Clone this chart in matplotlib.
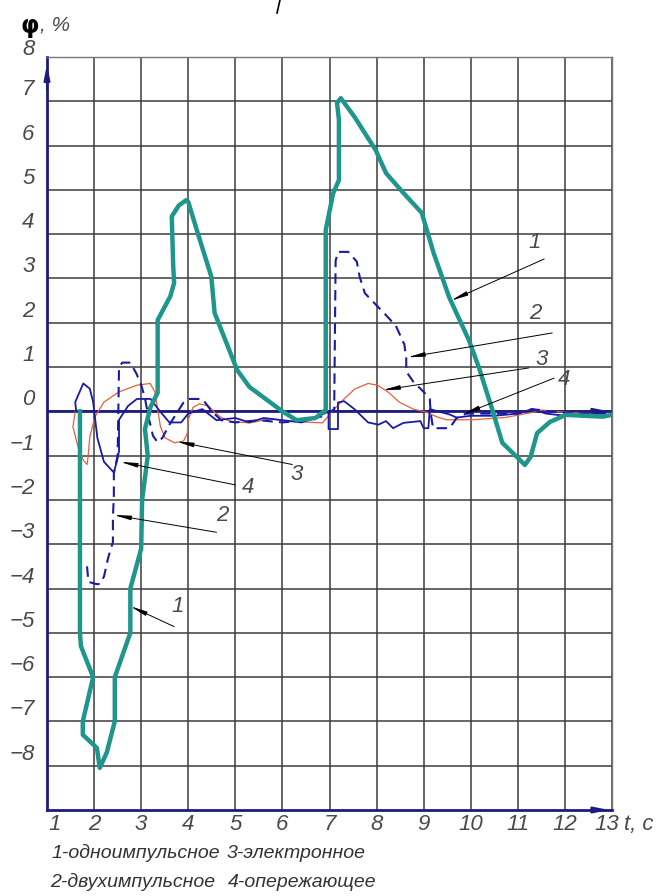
import matplotlib.pyplot as plt
from matplotlib.lines import Line2D
from matplotlib import transforms

plt.rcParams['font.family'] = ['Liberation Sans', 'DejaVu Sans']

# 1 - одноимпульсное
t1 = [1.70, 1.70, 1.72, 1.98, 1.76, 1.76, 2.06, 2.12, 2.27, 2.44,
      2.44, 2.77, 2.77, 3.00, 3.02, 3.14, 3.08, 3.20, 3.35, 3.35,
      3.62, 3.70, 3.68, 3.65, 3.80, 3.96, 4.00, 4.20, 4.49, 4.56,
      5.04, 5.30, 6.00, 6.30, 6.70, 6.92, 6.92, 7.08, 7.20, 7.20,
      7.16, 7.24, 7.53, 7.98, 8.20, 8.57, 8.96, 9.21, 9.54, 9.96,
      10.17, 10.46, 10.67, 10.98, 11.15, 11.27, 11.41, 11.68, 12.02, 12.80,
      13.00]
phi1 = [0.0, -5.0, -5.3, -6.0, -7.0, -7.3, -7.6, -8.05, -7.7, -7.0,
        -6.0, -5.0, -4.0, -3.1, -2.0, -1.0, -0.4, 0.1, 0.42, 2.06,
        2.6, 2.9, 3.3, 4.4, 4.65, 4.77, 4.73, 4.03, 3.04, 2.22,
        0.93, 0.55, 0.0, -0.2, -0.15, 0.03, 4.1, 4.93, 5.22, 6.58,
        6.96, 7.07, 6.65, 5.9, 5.38, 4.93, 4.48, 3.58, 2.58, 1.61,
        1.0, 0.03, -0.71, -1.03, -1.21, -1.03, -0.49, -0.24, -0.08, -0.12,
        -0.08]

# 2 - двухимпульсное
t2 = [1.85, 1.88, 2.05, 2.12, 2.21, 2.30, 2.40, 2.40, 2.42, 2.42,
      2.50, 2.53, 2.60, 2.77, 2.90, 3.00, 3.08, 3.15, 3.25, 3.35,
      3.45, 3.60, 3.75, 3.90, 4.00, 4.30, 4.50, 4.70, 5.00, 5.50,
      6.00, 6.50, 6.90, 7.10, 7.13, 7.18, 7.40, 7.58, 7.64, 7.75,
      7.90, 8.15, 8.41, 8.59, 8.63, 8.63, 8.78, 9.00, 9.13, 9.15,
      9.20, 9.55, 9.70, 9.90, 10.50, 11.00, 11.30, 11.70, 12.20, 13.00]
phi2 = [-3.5, -3.85, -3.9, -3.9, -3.73, -3.3, -2.95, -2.4, -1.9, -1.4,
        -1.0, 1.0, 1.1, 1.1, 0.85, 0.6, 0.3, -0.1, -0.55, -0.7,
        -0.6, -0.3, -0.05, 0.2, 0.28, 0.28, 0.0, -0.2, -0.25, -0.2,
        -0.25, -0.2, -0.1, 0.05, 3.4, 3.6, 3.6, 3.38, 3.04, 2.67,
        2.5, 2.23, 1.93, 1.51, 1.19, 0.9, 0.67, 0.44, 0.28, -0.05,
        -0.38, -0.38, -0.15, -0.05, -0.05, -0.05, 0.05, 0.0, -0.05, -0.05]

# 3 - электронное
t3 = [1.60, 1.55, 1.66, 1.77, 1.85, 1.87, 1.91, 2.02, 2.21, 2.53,
      2.91, 3.19, 3.29, 3.35, 3.41, 3.51, 3.71, 3.90, 3.98, 4.00,
      4.10, 4.24, 4.43, 4.56, 4.70, 4.90, 5.30, 5.75, 6.27, 6.85,
      7.10, 7.31, 7.53, 7.82, 8.02, 8.24, 8.48, 8.78, 9.06, 9.27,
      9.48, 10.04, 10.73, 11.33, 11.52, 11.74, 12.02, 12.60, 12.90, 13.00]
phi3 = [0.0, -0.35, -0.8, -1.1, -1.2, -1.05, -0.57, -0.12, 0.21, 0.44,
        0.59, 0.63, 0.44, 0.05, -0.35, -0.6, -0.71, -0.67, -0.5, -0.19,
        0.09, 0.17, 0.12, -0.02, -0.14, -0.23, -0.26, -0.17, -0.23, -0.26,
        0.05, 0.28, 0.5, 0.63, 0.59, 0.44, 0.21, 0.05, -0.02, -0.12,
        -0.19, -0.19, -0.14, -0.02, 0.03, 0.0, -0.02, -0.07, -0.12, -0.05]

# 4 - опережающее
t4 = [1.62, 1.60, 1.77, 1.91, 1.98, 2.07, 2.21, 2.42, 2.49, 2.53,
      2.53, 2.72, 2.91, 3.20, 3.40, 3.60, 3.85, 4.00, 4.30, 4.60,
      5.00, 5.30, 5.60, 6.00, 6.40, 6.70, 6.98, 6.98, 7.18, 7.18,
      7.31, 7.53, 7.82, 8.04, 8.20, 8.35, 8.57, 8.93, 9.00, 9.10,
      9.13, 9.55, 9.70, 10.00, 10.50, 11.00, 11.30, 11.60, 12.00, 13.00]
phi4 = [0.0, 0.21, 0.63, 0.51, 0.21, -0.6, -1.14, -1.38, -1.1, -0.9,
        -0.19, 0.12, 0.28, 0.28, 0.0, -0.25, -0.25, -0.05, 0.05, -0.2,
        -0.15, -0.25, -0.15, -0.2, -0.25, -0.15, 0.0, -0.4, -0.4, 0.2,
        0.23, 0.05, -0.25, -0.3, -0.22, -0.38, -0.26, -0.22, -0.38, -0.38,
        0.05, -0.07, -0.14, -0.1, -0.1, -0.05, 0.05, -0.05, -0.1, -0.1]

t_ticks = list(range(1, 14))
phi_ticks = list(range(-8, 9))

# callouts: label, text pos, line start, arrow tip
callouts = [
    ('1', (11.35, 3.82), (11.56, 3.44), (9.58, 2.50)),
    ('2', (11.38, 2.20), (11.73, 1.77), (8.66, 1.22)),
    ('3', (11.50, 1.18), (11.23, 0.98), (8.13, 0.48)),
    ('4', (11.98, 0.73), (11.77, 0.75), (9.83, -0.07)),
    ('3', (6.31, -1.43), (6.21, -1.20), (3.75, -0.68)),
    ('4', (5.27, -1.73), (5.00, -1.66), (2.56, -1.14)),
    ('2', (4.73, -2.34), (4.60, -2.73), (2.42, -2.34)),
    ('1', (3.78, -4.40), (3.70, -4.86), (2.77, -4.40)),
]

teal = '#1e968c'
navy = '#1a1aa6'
orange = '#e4603a'
axis_col = '#1c1c80'
txt_col = '#4a4a4a'

fig = plt.figure(figsize=(6.59, 8.96), dpi=100)
ax = fig.add_axes([47 / 659, 86 / 896, 565 / 659, 753 / 896])
ax.set_xlim(1, 13)
ax.set_ylim(-9, 8)

ax.set_xticks(t_ticks)
ax.set_yticks(phi_ticks)
ax.grid(True, color='#3c3c3c', lw=1.1)
ax.tick_params(length=0, labelbottom=False, labelleft=False)
for s in ['top', 'right']:
    ax.spines[s].set_color('#777777')
    ax.spines[s].set_linewidth(1.0)
for s in ['left', 'bottom']:
    ax.spines[s].set_color(axis_col)
    ax.spines[s].set_linewidth(2.0)
ax.axhline(0, color=axis_col, lw=2.0, zorder=2)

# axis arrows
head = dict(arrowstyle='-|>,head_length=0.9,head_width=0.18', color=axis_col, lw=1.5)
ax.annotate('', xy=(13, 0), xytext=(12.5, 0), arrowprops=head, annotation_clip=False)
ax.annotate('', xy=(13, -9), xytext=(12.5, -9), arrowprops=head, annotation_clip=False)
ax.annotate('', xy=(1, 7.9), xytext=(1, 7.2), arrowprops=head, annotation_clip=False)

ax.plot(t3, phi3, color=orange, lw=0.9, zorder=3)
ax.plot(t4, phi4, color=navy, lw=1.3, zorder=4)
ax.plot(t2, phi2, color=navy, lw=1.5, ls=(0, (5, 3)), zorder=4)
ax.plot(t1, phi1, color=teal, lw=3.2, solid_joinstyle='round', zorder=5)

for lab, tp, ls, tip in callouts:
    ax.annotate('', xy=tip, xytext=ls,
                arrowprops=dict(arrowstyle='-|>,head_length=1.0,head_width=0.13',
                                color='black', lw=0.7, shrinkA=0, shrinkB=0),
                zorder=6)
    ax.text(tp[0], tp[1], lab, fontsize=16, style='italic', color=txt_col,
            ha='center', va='center', zorder=6)

# tick labels
ytr = transforms.blended_transform_factory(ax.transAxes, ax.transData)
for v in phi_ticks:
    off = 0.16 if v == 8 else 0.26
    ax.text(-0.022, v + off, str(v).replace('-', '\u2212'), transform=ytr,
            ha='right', va='center', fontsize=16, style='italic', color=txt_col)
for v in t_ticks:
    x = v
    if v == 1:
        x = 1.17
    if v == 13:
        x = 12.9
    ax.text(x, -9.33, str(v), ha='center', va='center', fontsize=16,
            style='italic', color=txt_col)
ax.text(13.25, -9.33, 't, c', ha='left', va='center', fontsize=16,
        style='italic', color=txt_col)

fig.text(21 / 659, 1 - 26 / 896, '\u03c6', fontsize=17, fontweight='bold',
         color='black', va='center', family=['DejaVu Sans'])
fig.text(40 / 659, 1 - 25 / 896, ', %', fontsize=15, style='italic',
         color=txt_col, va='center')
fig.add_artist(Line2D([280 / 659, 277 / 659], [1.0, 1 - 13 / 896], color='black', lw=1.2))

fig.text(52 / 659, 1 - 853 / 896, '1-одноимпульсное', fontsize=14, style='italic',
         color='#333333', va='center')
fig.text(227 / 659, 1 - 853 / 896, '3-электронное', fontsize=14, style='italic',
         color='#333333', va='center')
fig.text(50 / 659, 1 - 882 / 896, '2-двухимпульсное', fontsize=14, style='italic',
         color='#333333', va='center')
fig.text(228 / 659, 1 - 882 / 896, '4-опережающее', fontsize=14, style='italic',
         color='#333333', va='center')

fig.savefig('out.png', dpi=100)
